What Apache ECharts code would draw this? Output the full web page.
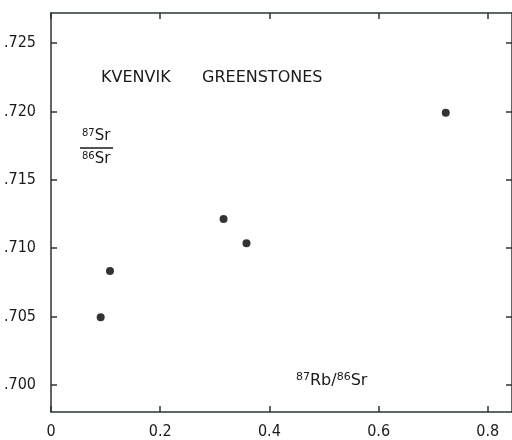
<!DOCTYPE html>
<html>
<head>
<meta charset="utf-8">
<script src="https://cdn.jsdelivr.net/npm/echarts@6/dist/echarts.min.js"></script>
<style>
html,body{margin:0;padding:0;background:#fff;}
#c{width:512px;height:440px;}
</style>
</head>
<body>
<div id="c"></div>
<script>
// Data
var rbSr = [0.091, 0.108, 0.316, 0.358, 0.723];
var srSr = [0.70495, 0.70833, 0.71213, 0.71036, 0.71990];
var xTicks = [0, 0.2, 0.4, 0.6, 0.8];
var xTickLabels = ['0', '0.2', '0.4', '0.6', '0.8'];
var yTicks = [0.700, 0.705, 0.710, 0.715, 0.720, 0.725];
var yTickLabels = ['.700', '.705', '.710', '.715', '.720', '.725'];
var titleWords = ['KVENVIK', 'GREENSTONES'];

var FONT = '"DejaVu Sans Condensed", "Liberation Sans Narrow", "DejaVu Sans", sans-serif';
var FONT2 = '"DejaVu Sans", sans-serif';
var AX = '#2c352c';
var TXT = '#1a1a1a';

var points = rbSr.map(function (x, i) { return [x, srSr[i]]; });

function fmt(ticks, labels) {
  return function (v) {
    for (var i = 0; i < ticks.length; i++) {
      if (Math.abs(ticks[i] - v) < 1e-6) return labels[i];
    }
    return '';
  };
}

var chart = echarts.init(document.getElementById('c'), null, {renderer: 'canvas'});
var xMin = 0, xMax = 0.8443, yMin = 0.69803, yMax = 0.72719;
var lineStyle = {color: AX, width: 1.5};

var supRich = {
  s: {fontSize: 10, fontFamily: FONT2, verticalAlign: 'top', padding: [0, 0, 6, 0], fill: TXT},
  b: {fontSize: 15, fontFamily: FONT2, fill: TXT}
};

chart.setOption({
  animation: false,
  backgroundColor: '#fff',
  grid: {left: 51, right: 0, top: 13, bottom: 28, containLabel: false},
  xAxis: [{
    type: 'value', min: xMin, max: xMax, position: 'bottom',
    axisLine: {show: true, onZero: false, lineStyle: lineStyle},
    axisTick: {show: true, inside: true, length: 6, customValues: xTicks, lineStyle: lineStyle},
    axisLabel: {show: true, customValues: xTicks, formatter: fmt(xTicks, xTickLabels),
      color: TXT, fontFamily: FONT, fontSize: 16, margin: 12},
    splitLine: {show: false}
  }, {
    type: 'value', min: xMin, max: xMax, position: 'top',
    axisLine: {show: true, onZero: false, lineStyle: lineStyle},
    axisTick: {show: true, inside: true, length: 6, customValues: xTicks, lineStyle: lineStyle},
    axisLabel: {show: false},
    splitLine: {show: false}
  }],
  yAxis: [{
    type: 'value', min: yMin, max: yMax, position: 'left',
    axisLine: {show: true, onZero: false, lineStyle: lineStyle},
    axisTick: {show: true, inside: true, length: 6, customValues: yTicks, lineStyle: lineStyle},
    axisLabel: {show: true, customValues: yTicks, formatter: fmt(yTicks, yTickLabels),
      color: TXT, fontFamily: FONT, fontSize: 16, margin: 15},
    splitLine: {show: false}
  }, {
    type: 'value', min: yMin, max: yMax, position: 'right',
    axisLine: {show: true, onZero: false, lineStyle: lineStyle},
    axisTick: {show: true, inside: true, length: 6, customValues: yTicks, lineStyle: lineStyle},
    axisLabel: {show: false},
    splitLine: {show: false}
  }],
  series: [{
    type: 'scatter',
    xAxisIndex: 0, yAxisIndex: 0,
    data: points,
    symbol: 'circle',
    symbolSize: 8,
    itemStyle: {color: '#000'}
  }],
  graphic: [
    {type: 'text', left: 101, top: 70, style: {text: titleWords[0], font: '16px ' + FONT2, fill: TXT}},
    {type: 'text', left: 202, top: 70, style: {text: titleWords[1], font: '16px ' + FONT2, fill: TXT}},
    {type: 'text', left: 82, top: 128, style: {text: '{s|87}{b|Sr}', fill: TXT, rich: supRich}},
    {type: 'line', shape: {x1: 80, y1: 148, x2: 113, y2: 148}, style: {stroke: TXT, lineWidth: 1.3}},
    {type: 'text', left: 82, top: 151, style: {text: '{s|86}{b|Sr}', fill: TXT, rich: supRich}},
    {type: 'text', left: 296, top: 372, style: {
      text: '{s|87}{b|Rb/}{s|86}{b|Sr}', fill: TXT,
      rich: {
        s: {fontSize: 11, fontFamily: FONT2, verticalAlign: 'top', padding: [0, 0, 6, 0], fill: TXT},
        b: {fontSize: 16, fontFamily: FONT2, fill: TXT}
      }
    }}
  ]
});
</script>
</body>
</html>
